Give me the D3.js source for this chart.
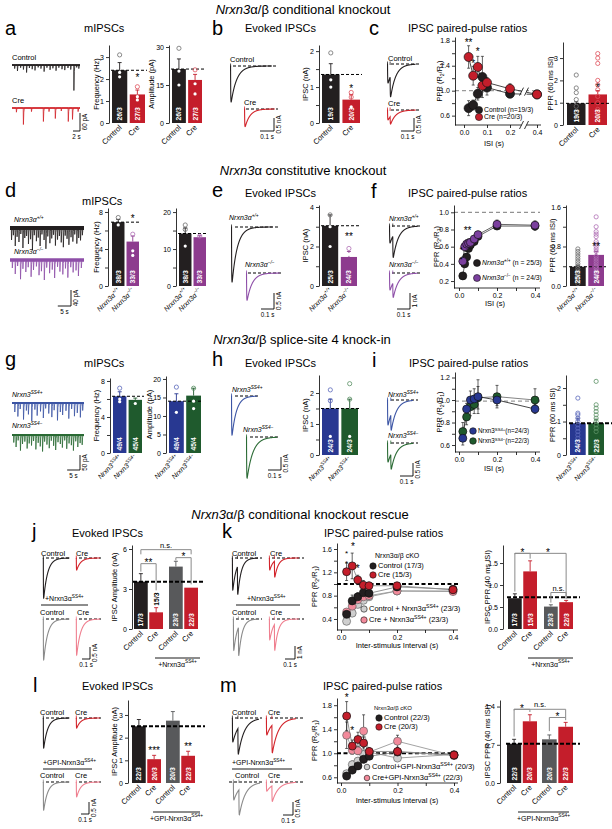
<!DOCTYPE html>
<html><head><meta charset="utf-8">
<script src="https://cdn.jsdelivr.net/npm/d3@7/dist/d3.min.js"></script>
<style>html,body{margin:0;padding:0;background:#fff}svg{display:block}</style>
</head><body>
<svg id="fig" width="612" height="829"></svg>
<script>
/* ================= DATA ================= */
// ---- row 1: Nrxn3a/b conditional KO ----
const condGroups = ["Control", "Cre"];
const aCtrlTimes = [0.7,1.5,2.4,3.2,4.1,4.9,5.7,6.5,7.4,8.2,9.1,9.9,10.8,11.6,12.5,13.3,14.2,15.0,15.9,16.7,17.6,18.4,19.0];
const aCtrlAmps  = [12,20,9,15,25,10,14,18,8,12,22,9,16,11,19,9,14,17,10,15,85,8,12];
const aCreTimes  = [1.2,3.2,5.5,8.9,10.5,12.3,14.0,16.0,17.2,18.8];
const aCreAmps   = [14,55,12,45,12,35,10,45,38,12];
const aFreqMean = [2.4, 1.3], aFreqSem = [0.35, 0.2], aFreqN = ["26/3", "27/3"];
const aFreqOpen = [[3.1], [1.65]], aFreqDots = [[2.1, 2.3], [1.05, 1.2]];
const aAmpMean = [21.3, 17], aAmpSem = [4, 2.2], aAmpN = ["26/3", "27/3"];
const aAmpOpen = [[29.5], [21]], aAmpDots = [[20.5, 15], [15.5, 11.5]];
const bTraceAmps = [[1.38], [0.68]];
const bMean = [1.35, 0.65], bSem = [0.3, 0.14], bN = ["19/3", "20/3"];
const bOpen = [[1.95], [0.85, 0.72]], bDots = [[1.2, 1.0], [0.45]];
const cTraceAmps = [[0.73, 0.8], [0.38, 0.3]];
const cIsi = [0.02, 0.04, 0.06, 0.08, 0.1, 0.2, 0.4];
const cCtrl = [0.72, 0.77, 0.95, 1.22, 1.05, 0.95, 0.94], cCtrlSem = [0.12, 0.08, 0.1, 0.33, 0.12, 0.04, 0.04];
const cCre  = [1.54, 1.24, 1.38, 1.08, 1.13, 1.03, 0.94], cCreSem  = [0.18, 0.15, 0.17, 0.1, 0.08, 0.08, 0.05];
const cBarMean = [0.97, 1.37], cBarSem = [0.07, 0.17], cBarN = ["19/3", "20/3"];
const cBarOpen = [[2.24,1.66,1.45,1.14,0.84,0.55,0.33], [3.2,3.0,2.76,2.0,1.8,1.58,1.28,1.0,0.7,0.47]];

// ---- row 2: Nrxn3a constitutive KO ----
const dWtTimes = [0.5,1.2,1.9,2.6,3.3,4.0,4.8,5.5,6.2,6.9,7.7,8.4,9.1,9.9,10.6,11.3,12.0,12.8,13.5,14.2,15.0,15.7,16.4,17.1,17.9,18.6,19.3,20.1,20.8,21.5,22.2,23.0,23.7,24.4,25.2,25.9,26.6,27.3];
const dWtAmps  = [30,18,45,22,35,15,50,25,20,40,28,55,18,33,24,45,16,30,52,21,38,26,17,44,29,20,36,48,19,27,42,23,34,16,39,25,31,18];
const dKoTimes = [0.8,1.9,2.8,3.9,4.8,5.9,6.8,7.9,8.8,9.9,10.9,11.8,12.9,13.8,14.9,15.9,16.8,17.9,18.8,19.9,20.9,21.8,22.9,23.8,24.9,25.8,26.9];
const dKoAmps  = [20,35,15,48,22,30,18,42,25,16,38,28,50,19,33,24,45,17,29,36,21,44,18,31,26,40,20];
const dFreqMean = [6.9, 4.8], dFreqSem = [0.3, 0.6], dFreqN = ["38/3", "33/3"];
const dFreqOpen = [[7.4], [5.6]], dFreqDots = [[6.6], [3.8, 3.3]];
const dAmpMean = [14.2, 13.2], dAmpSem = [1.5, 0.4], dAmpN = ["38/3", "33/3"];
const dAmpOpen = [[16.5, 15.3], [13.5]], dAmpDots = [[10.8], []];
const eTraceAmps = [[1.72], [0.85]];
const eMean = [3.05, 1.47], eSem = [0.55, 0.28], eN = ["25/3", "24/3"];
const eOpen = [[3.6], [1.9]], eDots = [[2.0, 3.0], [1.6]];
const fTraceAmps = [[1.06, 1.37], [1.06, 0.93]];
const fIsi = [0.02, 0.03, 0.04, 0.05, 0.06, 0.08, 0.1, 0.2, 0.4];
const fWt = [0.26, 0.40, 0.48, 0.58, 0.62, 0.66, 0.72, 0.84, 0.84], fWtSem = [0.04,0.04,0.04,0.04,0.04,0.04,0.04,0.04,0.05];
const fKo = [0.43, 0.60, 0.63, 0.64, 0.65, 0.69, 0.74, 0.86, 0.85], fKoSem = [0.05,0.05,0.05,0.05,0.04,0.04,0.04,0.05,0.05];
const fBarMean = [0.39, 0.63], fBarSem = [0.03, 0.07], fBarN = ["25/3", "24/3"];
const fBarOpen = [[0.75,0.7,0.65,0.6,0.55,0.5,0.45,0.4,0.35,0.3,0.25,0.2,0.15,0.1,0.05],
                  [1.4,1.2,1.1,1.05,1.0,0.9,0.85,0.8,0.75,0.7,0.6,0.55,0.5,0.45,0.4,0.35,0.3,0.25,0.2,0.15]];

// ---- row 3: splice-site 4 knock-in ----
const gPlusTimes  = [1.0,2.2,3.1,4.4,5.5,6.3,7.6,8.8,9.7,11.0,12.1,13.0,14.2,15.4,16.3,17.6,18.7,19.6,20.9,22.0,23.1,24.2,25.3,26.5,27.4];
const gPlusAmps   = [30,45,20,55,25,38,60,22,42,28,50,18,35,47,24,58,30,40,26,52,20,44,33,48,25];
const gMinusTimes = [0.6,1.5,2.3,3.2,4.0,4.9,5.8,6.6,7.5,8.3,9.2,10.1,10.9,11.8,12.6,13.5,14.4,15.2,16.1,16.9,17.8,18.7,19.5,20.4,21.2,22.1,23.0,23.8,24.7,25.5,26.4,27.2];
const gMinusAmps  = [25,40,18,52,30,22,45,28,35,20,48,26,38,55,22,32,44,19,36,50,24,30,42,18,46,28,34,52,21,40,27,33];
const gFreqMean = [6.3, 5.9], gFreqSem = [0.5, 0.2], gFreqN = ["49/4", "45/4"];
const gFreqOpen = [[7.2], []], gFreqDots = [[6.0, 5.7], [5.5]];
const gAmpMean = [14, 15.5], gAmpSem = [2, 2], gAmpN = ["49/4", "45/4"];
const gAmpOpen = [[17.8], [17.5]], gAmpDots = [[11], [14, 12]];
const hTraceAmps = [[1.5], [1.58]];
const hMean = [1.5, 1.5], hSem = [0.3, 0.3], hN = ["24/3", "24/3"];
const hOpen = [[2.1, 1.75], [2.3, 1.8]], hDots = [[0.6], [0.6]];
const iTraceAmps = [[0.96, 0.62], [0.73, 0.6]];
const iIsi = [0.02, 0.04, 0.06, 0.08, 0.1, 0.2, 0.4];
const iPlus  = [0.66, 0.92, 1.0, 1.01, 1.03, 1.0, 0.92], iPlusSem  = [0.06, 0.05, 0.08, 0.09, 0.15, 0.05, 0.04];
const iMinus = [0.72, 0.85, 0.94, 0.96, 1.02, 1.03, 1.0], iMinusSem = [0.08, 0.07, 0.08, 0.08, 0.1, 0.1, 0.1];
const iBarMean = [0.95, 0.95], iBarSem = [0.15, 0.12], iBarN = ["24/3", "22/3"];
const iBarOpen = [[1.7,1.25,1.2,1.1,1.0,0.9,0.8,0.7,0.6,0.5], [2.2,1.5,1.4,1.3,1.2,1.1,1.0,0.9,0.8,0.7,0.3,0.1]];

// ---- rescue rows ----
const rescueGroups = ["Control", "Cre", "Control", "Cre"];
const jTraceAmps = [[1.67], [0.5], [1.7], [1.5]];
const jMean = [3.55, 1.25, 4.68, 3.1], jSem = [0.6, 0.35, 0.4, 0], jN = ["17/3", "15/3", "23/3", "22/3"];
const kTraceAmps = [[2.46, 2.18], [0.92, 1.24], [2.4, 2.2], [1.6, 2.0]];
const kIsi = [0.02, 0.04, 0.06, 0.08, 0.1, 0.2, 0.4];
const kCtrl  = [0.48, 0.71, 0.78, 0.85, 0.84, 0.95, 0.91], kCtrlSem  = [0.05, 0.1, 0.07, 0.05, 0.05, 0.05, 0.04];
const kCre   = [1.21, 1.31, 1.07, 0.98, 0.97, 0.97, 0.90], kCreSem   = [0.15, 0.22, 0.08, 0.08, 0.06, 0.05, 0.04];
const kCtrlR = [0.36, 0.50, 0.65, 0.72, 0.78, 0.88, 0.88], kCtrlRSem = [0.04, 0.05, 0.04, 0.04, 0.04, 0.04, 0.04];
const kCreR  = [0.52, 0.62, 0.73, 0.78, 0.80, 0.88, 0.87], kCreRSem  = [0.05, 0.05, 0.04, 0.04, 0.04, 0.04, 0.04];
const kBarMean = [0.70, 1.31, 0.51, 0.61], kBarSem = [0.1, 0.24, 0.04, 0.04], kBarN = ["17/3", "15/3", "23/3", "22/3"];
const lTraceAmps = [[1.25], [0.42], [1.17], [0.62]];
const lMean = [2.5, 1.05, 2.75, 1.2], lSem = [0.3, 0.17, 0.4, 0.2], lN = ["22/3", "20/3", "20/3", "22/3"];
const mTraceAmps = [[0.92, 1.01], [0.65, 1.07], [0.69, 0.98], [0.35, 0.6]];
const mIsi = [0.02, 0.04, 0.06, 0.08, 0.1, 0.2, 0.4];
const mCtrl  = [0.62, 0.72, 0.79, 0.90, 0.95, 1.02, 0.97], mCtrlSem  = [0.05, 0.06, 0.06, 0.06, 0.05, 0.04, 0.04];
const mCre   = [1.62, 1.12, 1.23, 1.17, 1.03, 1.03, 0.97], mCreSem   = [0.24, 0.1, 0.12, 0.1, 0.06, 0.06, 0.04];
const mCtrlR = [0.66, 0.81, 0.87, 0.98, 1.02, 0.92, 0.98], mCtrlRSem = [0.05, 0.06, 0.06, 0.06, 0.05, 0.04, 0.04];
const mCreR  = [1.30, 1.05, 1.04, 1.37, 1.02, 1.20, 0.96], mCreRSem  = [0.22, 0.06, 0.06, 0.27, 0.06, 0.1, 0.04];
const mBarMean = [0.72, 1.13, 0.80, 1.03], mBarSem = [0.08, 0.12, 0.08, 0.08], mBarN = ["22/3", "20/3", "20/3", "22/3"];

/* ================= STYLE ================= */
const FONT = '"Liberation Sans", Arial, Helvetica, sans-serif';
const BLACK = "#231f20", RED = "#c41e2b", PURPLE = "#8d3b8e", BLUE = "#283891", GREEN = "#1f5a2d", GRAY = "#58595b";
const TR_RED = "#d2232a", TR_PURPLE = "#8e4fa8", TR_BLUE = "#3c55a5", TR_GREEN = "#2b6b35", TR_GRAY = "#8a8a8a", TR_PINK = "#ef7f8f";
const O_BLACK = "#6d6d6d", O_RED = "#e0505c", O_PURPLE = "#b070b5", O_BLUE = "#5a68bb", O_GREEN = "#5a9064";
const M_PURPLE = "#7b3f9e", M_LGRAY = "#cfcfcf", M_PINK = "#f28a9b";

const L = {
  wt: [{t: "Nrxn3α", it: 1}, {t: "+/+", sup: 1, it: 1}],
  ko: [{t: "Nrxn3α", it: 1}, {t: "−/−", sup: 1, it: 1}],
  ssp: [{t: "Nrxn3", it: 1}, {t: "SS4+", sup: 1, it: 1}],
  ssm: [{t: "Nrxn3", it: 1}, {t: "SS4−", sup: 1, it: 1}],
  resc: [{t: "+Nrxn3α"}, {t: "SS4+", sup: 1}],
  gpi: [{t: "+GPI-Nrxn3α"}, {t: "SS4+", sup: 1}],
  ppr: [{t: "PPR  (R"}, {t: "2", sub: 1}, {t: "/R"}, {t: "1", sub: 1}, {t: ")"}]
};

const svg = d3.select("#fig");

function addSegs(t, s, size) {
  const segs = typeof s === "string" ? [{t: s}] : s;
  let shift = 0;
  segs.forEach(sg => {
    const ts = t.append("tspan").text(sg.t);
    if (sg.it) ts.attr("font-style", "italic");
    const target = sg.sup ? -0.45 : (sg.sub ? 0.3 : 0);
    if (sg.sup || sg.sub) ts.attr("font-size", size * 0.68);
    const dy = (target - shift) * size;
    if (Math.abs(dy) > 1e-6) ts.attr("dy", dy);
    shift = target;
  });
}
function txt(g, x, y, s, o = {}) {
  const size = o.size || 7.5;
  const t = g.append("text").attr("x", x).attr("y", y).attr("font-size", size)
    .attr("font-family", FONT).attr("fill", o.fill || "#000").attr("text-anchor", o.anchor || "start");
  if (o.weight) t.attr("font-weight", o.weight);
  if (o.rot != null) t.attr("transform", `rotate(${o.rot},${x},${y})`);
  addSegs(t, s, size);
  return t;
}
function starTxt(g, x, y, lines) {
  // stacked significance stars: separate text lines, spaced so they do not collide
  const size = lines.length > 1 ? 8 : 10;
  lines.forEach((s, i) => txt(g, x, y + i * size * 1.2, s, {size: size, anchor: "middle"}));
}
function yAxis(g, y, ax, ticks, labels, fmt) {
  const a = d3.axisLeft(y).tickValues(ticks).tickSizeInner(3).tickSizeOuter(0).tickPadding(2)
    .tickFormat(d => labels.some(l => Math.abs(l - d) < 1e-9) ? fmt(d) : "");
  const gg = g.append("g").attr("transform", `translate(${ax},0)`).call(a);
  gg.select(".domain").attr("stroke", "#000").attr("stroke-width", 0.8);
  gg.selectAll(".tick line").attr("stroke", "#000").attr("stroke-width", 0.8);
  gg.selectAll(".tick text").attr("font-size", 7).attr("font-family", FONT).attr("fill", "#000");
  return gg;
}

/* ---------- bar panel ---------- */
function barPanel(p) {
  const g = svg.append("g");
  const y = d3.scaleLinear().domain([0, p.max]).range([p.y0, p.yTop]);
  yAxis(g, y, p.ax, p.ticks, p.labels || p.ticks, p.fmt || (d => String(d)));
  const pos = [];
  p.pairs.forEach(r => {
    const b = d3.scaleBand().domain([0, 1]).range(r).paddingInner(p.pad == null ? 0.14 : p.pad);
    [0, 1].forEach(i => pos.push({x: b(i), w: b.bandwidth(), c: b(i) + b.bandwidth() / 2}));
  });
  g.selectAll("rect.bar").data(p.mean).join("rect").attr("class", "bar")
    .attr("x", (d, i) => pos[i].x).attr("width", (d, i) => pos[i].w)
    .attr("y", d => y(d)).attr("height", d => p.y0 - y(d)).attr("fill", (d, i) => p.colors[i]);
  p.mean.forEach((m, i) => {
    if (!p.sem[i]) return;
    const c = pos[i].c, yt = y(m + p.sem[i]);
    g.append("path").attr("d", `M${c},${y(m)}V${yt}M${c - 2},${yt}H${c + 2}`)
      .attr("stroke", p.colors[i]).attr("stroke-width", 0.9).attr("fill", "none");
  });
  if (p.ref != null) g.append("line").attr("x1", pos[0].x - 1).attr("x2", p.refEnd)
    .attr("y1", y(p.ref)).attr("y2", y(p.ref)).attr("stroke", "#000")
    .attr("stroke-width", p.refW || 1).attr("stroke-dasharray", p.refDash || "3,2");
  (p.open || []).forEach((vals, i) => vals.forEach(v => g.append("circle").attr("cx", pos[i].c).attr("cy", y(v))
    .attr("r", p.r || 2.1).attr("fill", "none").attr("stroke", p.openColors[i]).attr("stroke-width", 0.8)));
  (p.dots || []).forEach((vals, i) => vals.forEach(v => g.append("circle").attr("cx", pos[i].c).attr("cy", y(v))
    .attr("r", 1.6).attr("fill", "#fff")));
  p.n.forEach((s, i) => {
    if (p.nOut && p.nOut.includes(i)) txt(g, pos[i].c + 2.5, y(p.mean[i] + p.sem[i]) - 2, s, {size: 6.8, weight: "bold", rot: -90});
    else txt(g, pos[i].c + 2.5, p.y0 - 2.5, s, {size: 6.8, weight: "bold", rot: -90, fill: "#fff"});
  });
  (p.stars || []).forEach(st => txt(g, pos[st.i].c, y(st.v) + 4, st.t, {size: 10, anchor: "middle"}));
  (p.brackets || []).forEach(b => {
    const xa = pos[b.a].c, xb = pos[b.b].c;
    g.append("path").attr("d", `M${xa},${y(b.va)}V${y(b.lvl)}H${xb}V${y(b.vb)}`)
      .attr("stroke", "#8a8a8a").attr("fill", "none").attr("stroke-width", 1);
    const cx = b.tx != null ? b.tx : (xa + xb) / 2;
    if (b.t === "n.s.") txt(g, cx, y(b.lvl) - 1.8, b.t, {size: 7.5, anchor: "middle"});
    else txt(g, cx, y(b.lvl) + 2.8, b.t, {size: 10, anchor: "middle"});
  });
  p.xl.forEach((s, i) => txt(g, pos[i].c + 2.5, p.y0 + 5, s, {size: p.xs || 7.5, anchor: "end", rot: -45}));
  if (p.group) {
    g.append("line").attr("x1", p.group.x1).attr("x2", p.group.x2).attr("y1", p.group.y).attr("y2", p.group.y)
      .attr("stroke", "#000").attr("stroke-width", 0.9);
    txt(g, (p.group.x1 + p.group.x2) / 2, p.group.y + 8.5, p.group.label, {size: 7, anchor: "middle"});
  }
  if (p.yl) txt(g, p.ylx, (p.y0 + p.yTop) / 2, p.yl, {size: 7.5, rot: -90, anchor: "middle"});
  return {g, y, pos};
}

/* ---------- PPR line panel ---------- */
function pprPanel(p) {
  const g = svg.append("g");
  const y = d3.scaleLinear().domain(p.yd).range(p.yr);
  const x = d3.scaleLinear().domain(p.xd).range(p.xr);
  g.append("line").attr("x1", p.ax).attr("x2", p.refEnd).attr("y1", y(p.ref)).attr("y2", y(p.ref))
    .attr("stroke", p.refColor).attr("stroke-width", p.refW).attr("stroke-dasharray", p.refDash);
  yAxis(g, y, p.ax, p.yt, p.ytl, d3.format(".1f"));
  const xa = d3.axisBottom(x).tickValues(p.xt).tickSizeInner(3).tickSizeOuter(0).tickPadding(2)
    .tickFormat(d => p.xtl.includes(d) ? d3.format(".1f")(d) : "");
  const xg = g.append("g").attr("transform", `translate(0,${p.yr[0]})`).call(xa);
  xg.select(".domain").remove();
  xg.selectAll(".tick line").attr("stroke", "#000").attr("stroke-width", 0.8);
  xg.selectAll(".tick text").attr("font-size", 7).attr("font-family", FONT).attr("fill", "#000");
  g.append("line").attr("x1", p.ax).attr("x2", p.xEnd).attr("y1", p.yr[0]).attr("y2", p.yr[0])
    .attr("stroke", "#000").attr("stroke-width", 0.8);
  const line = d3.line();
  p.series.forEach(s => g.append("path").attr("d", line(p.isi.map((d, i) => [x(d), y(s.v[i])])))
    .attr("fill", "none").attr("stroke", s.line).attr("stroke-width", 0.9));
  if (p.brk) {
    [p.yr[0], ...p.brk.ys.map(v => y(v))].forEach(yy => {
      g.append("rect").attr("x", p.brk.x - 2.5).attr("y", yy - 4).attr("width", 5).attr("height", 8).attr("fill", "#fff");
      [-2.5, 2.5].forEach(o => g.append("line").attr("x1", p.brk.x + o - 2).attr("x2", p.brk.x + o + 2)
        .attr("y1", yy + 4).attr("y2", yy - 4).attr("stroke", "#000").attr("stroke-width", 0.8));
    });
  }
  p.series.forEach(s => p.isi.forEach((d, i) => {
    const cx = x(d), a = y(s.v[i] + s.e[i]), b = y(s.v[i] - s.e[i]);
    g.append("path").attr("d", `M${cx},${a}V${b}M${cx - 1.5},${a}H${cx + 1.5}M${cx - 1.5},${b}H${cx + 1.5}`)
      .attr("stroke", "#222").attr("stroke-width", 0.7).attr("fill", "none");
  }));
  p.series.forEach(s => p.isi.forEach((d, i) => g.append("circle").attr("cx", x(d)).attr("cy", y(s.v[i]))
    .attr("r", p.r).attr("fill", s.color).attr("stroke", s.stroke || "#111").attr("stroke-width", 0.7)));
  (p.stars || []).forEach(st => starTxt(g, x(st.x), y(st.v) + 4, st.t.split("|")));
  (p.legend || []).forEach(l => {
    if (l.color) g.append("circle").attr("cx", l.x).attr("cy", l.y).attr("r", l.r || 3.2)
      .attr("fill", l.color).attr("stroke", "#111").attr("stroke-width", 0.6);
    txt(g, l.x + (l.color ? 5 : 0), l.y + 2.4, l.label, {size: l.size || 6.8});
  });
  txt(g, p.ylx, (p.yr[0] + p.yr[1]) / 2, L.ppr, {size: 7.5, rot: -90, anchor: "middle"});
  txt(g, p.xlx, p.xly, p.xlabel, {size: 7.5, anchor: "middle"});
}

/* ---------- traces ---------- */
function mTrace(g, p) {
  const t = d3.scaleLinear().domain([0, p.dur]).range([p.x0, p.x1]);
  const a = d3.scaleLinear().domain([0, 100]).range([p.y0, p.y0 + 100 * p.pxA]);
  const pts = [[0, 0]];
  p.times.forEach((tt, i) => {
    pts.push([tt, 0], [tt + p.dur * 0.003, p.amps[i]], [tt + p.dur * 0.009, p.amps[i] * 0.25], [tt + p.dur * 0.017, 0]);
  });
  pts.push([p.dur, 0]);
  if (p.band) g.append("rect").attr("x", p.x0).attr("y", p.y0 - p.band / 2).attr("width", p.x1 - p.x0)
    .attr("height", p.band).attr("fill", p.color);
  g.append("path").attr("d", d3.line().x(d => t(d[0])).y(d => a(d[1]))(pts))
    .attr("fill", "none").attr("stroke", p.color).attr("stroke-width", p.sw || 0.8);
}
function eTrace(g, p) {
  const dt = 0.0005, rise = 0.0012;
  const k = tt => tt <= 0 ? 0 : (1 - Math.exp(-tt / rise)) * Math.exp(-tt / p.tau);
  const norm = d3.max(d3.range(0, 0.05, dt).map(k));
  const tS = d3.scaleLinear().domain([0, p.dur]).range([p.x0, p.x0 + p.dur * p.pxS]);
  const iS = d3.scaleLinear().domain([0, 1]).range([p.y0, p.y0 + p.pxA]);
  if (p.dash) g.append("line").attr("x1", p.dash[0]).attr("x2", p.dash[1]).attr("y1", p.y0).attr("y2", p.y0)
    .attr("stroke", "#000").attr("stroke-width", 1.1).attr("stroke-dasharray", "3,2");
  const pts = d3.range(0, p.dur + dt / 2, dt).map(t => [t, d3.sum(p.amps, (A, j) => A * k(t - 0.004 - j * (p.isi || 0)) / norm)]);
  g.append("path").attr("d", d3.line().x(d => tS(d[0])).y(d => iS(d[1]))(pts))
    .attr("fill", "none").attr("stroke", p.color).attr("stroke-width", 1.1);
  p.amps.forEach((A, j) => {
    const xx = tS(0.004 + j * (p.isi || 0));
    g.append("line").attr("x1", xx).attr("x2", xx).attr("y1", p.y0 - 2.5).attr("y2", p.y0 + 1)
      .attr("stroke", p.color).attr("stroke-width", 0.8);
  });
}
function scaleBar(g, x, y, w, h, tl, al) {
  g.append("path").attr("d", `M${x - w},${y}H${x}V${y - h}`).attr("stroke", "#000")
    .attr("fill", "none").attr("stroke-width", 0.9);
  txt(g, x - w / 2, y + 7.5, tl, {size: 6.3, anchor: "middle"});
  txt(g, x + 7, y - h / 2, al, {size: 6.3, anchor: "middle", rot: -90});
}

/* ================= DRAW ================= */
const G = svg.append("g");
// titles
txt(G, 303, 14, [{t: "Nrxn3", it: 1}, {t: "α/β conditional knockout"}], {size: 13, anchor: "middle"});
txt(G, 303, 175, [{t: "Nrxn3", it: 1}, {t: "α constitutive knockout"}], {size: 13, anchor: "middle"});
txt(G, 302, 344, [{t: "Nrxn3", it: 1}, {t: "α/β splice-site 4 knock-in"}], {size: 13, anchor: "middle"});
txt(G, 300, 519, [{t: "Nrxn3", it: 1}, {t: "α/β conditional knockout rescue"}], {size: 13, anchor: "middle"});
// panel letters
[["a", 5, 35], ["b", 212, 35], ["c", 369, 35], ["d", 5, 197], ["e", 212, 197], ["f", 371, 198],
 ["g", 5, 366], ["h", 212, 366], ["i", 372, 367], ["j", 32, 538], ["k", 222, 538], ["l", 33, 692], ["m", 220, 692]]
  .forEach(d => txt(G, d[1], d[2], d[0], {size: 20}));
// subtitles
[["mIPSCs", 84, 32], ["Evoked IPSCs", 245, 32], ["IPSC paired-pulse ratios", 408, 32],
 ["mIPSCs", 82, 205], ["Evoked IPSCs", 245, 197], ["IPSC paired-pulse ratios", 408, 197],
 ["mIPSCs", 84, 367], ["Evoked IPSCs", 245, 367], ["IPSC paired-pulse ratios", 409, 367],
 ["Evoked IPSCs", 72, 537], ["IPSC paired-pulse ratios", 324, 537],
 ["Evoked IPSCs", 82, 690], ["IPSC paired-pulse ratios", 323, 690]]
  .forEach(d => txt(G, d[1], d[2], d[0], {size: 11}));

/* ---- row 1 ---- */
txt(G, 12, 60, "Control", {size: 7.5});
mTrace(G, {x0: 12, x1: 80, y0: 65, dur: 19.4, pxA: 0.3, times: aCtrlTimes, amps: aCtrlAmps, color: BLACK, band: 1.8});
txt(G, 12, 103, "Cre", {size: 7.5});
mTrace(G, {x0: 12, x1: 80, y0: 108, dur: 19.4, pxA: 0.3, times: aCreTimes, amps: aCreAmps, color: TR_RED, band: 1.6});
scaleBar(G, 80, 131, 2 * 3.5, 60 * 0.3, "2 s", "60 pA");

barPanel({ax: 109, y0: 123, yTop: 45, max: 3.55, ticks: [0, 1, 2, 3], pairs: [[112, 145]], mean: aFreqMean, sem: aFreqSem,
  colors: [BLACK, RED], ref: 2.4, refEnd: 147, open: aFreqOpen, openColors: [O_BLACK, O_RED], dots: aFreqDots, n: aFreqN,
  stars: [{i: 1, v: 2.1, t: "*"}], xl: condGroups, yl: "Frequency (Hz)", ylx: 99});
barPanel({ax: 169, y0: 123, yTop: 45, max: 30.8, ticks: [0, 15, 30], pairs: [[172, 202]], mean: aAmpMean, sem: aAmpSem,
  colors: [BLACK, RED], ref: 21.3, refEnd: 204, open: aAmpOpen, openColors: [O_BLACK, O_RED], dots: aAmpDots, n: aAmpN,
  xl: condGroups, yl: "Amplitude (pA)", ylx: 154});

txt(G, 230, 62, "Control", {size: 7.5});
eTrace(G, {x0: 230, y0: 66, pxS: 140, pxA: 26, amps: bTraceAmps[0], tau: 0.04, dur: 0.3, color: BLACK, dash: [233, 277]});
txt(G, 244, 105, "Cre", {size: 7.5});
eTrace(G, {x0: 244, y0: 109, pxS: 140, pxA: 26, amps: bTraceAmps[1], tau: 0.035, dur: 0.22, color: TR_RED, dash: [246, 278]});
scaleBar(G, 274, 131, 0.1 * 140, 0.5 * 26, "0.1 s", "0.5 nA");
barPanel({ax: 319, y0: 123, yTop: 45, max: 2.17, ticks: [0, 0.5, 1, 1.5, 2], labels: [0, 1, 2], pairs: [[322, 360]],
  mean: bMean, sem: bSem, colors: [BLACK, RED], ref: 1.35, refEnd: 362, open: bOpen, openColors: [O_BLACK, O_RED],
  dots: bDots, n: bN, stars: [{i: 1, v: 0.98, t: "*"}], xl: condGroups, yl: "IPSC (nA)", ylx: 308});

txt(G, 388, 61, "Control", {size: 7.5});
eTrace(G, {x0: 387, y0: 64, pxS: 130, pxA: 26, amps: cTraceAmps[0], isi: 0.02, tau: 0.04, dur: 0.22, color: BLACK, dash: [391, 419]});
txt(G, 388, 106, "Cre", {size: 7.5});
eTrace(G, {x0: 387, y0: 110, pxS: 130, pxA: 26, amps: cTraceAmps[1], isi: 0.02, tau: 0.04, dur: 0.22, color: TR_RED, dash: [391, 419]});
scaleBar(G, 414, 131, 0.1 * 130, 0.5 * 26, "0.1 s", "0.5 nA");
pprPanel({ax: 455, xEnd: 541, yd: [0.45, 1.86], yr: [125, 37], xd: [0, 0.2, 0.4], xr: [464, 510, 537],
  xt: [0, 0.1, 0.2, 0.4], xtl: [0, 0.1, 0.2, 0.4], yt: [0.6, 0.8, 1.0, 1.2, 1.4, 1.6, 1.8], ytl: [0.6, 1.0, 1.4, 1.8],
  ref: 1.0, refEnd: 540, refColor: "#9a9a9a", refW: 1.2, refDash: "4,3", r: 4.5, isi: cIsi,
  brk: {x: 524, ys: [0.985]},
  series: [{v: cCtrl, e: cCtrlSem, color: BLACK, line: "#333"}, {v: cCre, e: cCreSem, color: RED, line: "#333"}],
  stars: [{x: 0.02, v: 1.78, t: "**"}, {x: 0.06, v: 1.63, t: "*"}, {x: 0.04, v: 1.44, t: "*"}],
  legend: [{x: 479, y: 110, color: BLACK, label: "Control (n=19/3)", r: 3.6}, {x: 479, y: 117, color: RED, label: "Cre (n=20/3)", r: 3.6}],
  ylx: 442, xlx: 494, xly: 146, xlabel: "ISI (s)"});
barPanel({ax: 563, y0: 125, yTop: 42, max: 3.72, ticks: [0, 1, 2, 3], pairs: [[567, 607]], mean: cBarMean, sem: cBarSem,
  colors: [BLACK, RED], ref: 0.97, refEnd: 609, open: cBarOpen, openColors: [O_BLACK, O_RED], n: cBarN,
  stars: [{i: 1, v: 1.72, t: "*"}], xl: condGroups, yl: "PPR (60 ms ISI)", ylx: 553});

/* ---- row 2 ---- */
txt(G, 14, 222, L.wt, {size: 7});
mTrace(G, {x0: 10, x1: 84, y0: 228, dur: 28, pxA: 0.4, times: dWtTimes, amps: dWtAmps, color: BLACK, band: 4});
txt(G, 14, 254, L.ko, {size: 7});
mTrace(G, {x0: 10, x1: 84, y0: 260, dur: 28, pxA: 0.4, times: dKoTimes, amps: dKoAmps, color: TR_PURPLE, band: 3.5});
scaleBar(G, 71, 306, 5 * 2.64, 40 * 0.4, "5 s", "40 pA");
barPanel({ax: 108, y0: 286, yTop: 208, max: 8.43, ticks: [0, 2, 4, 6, 8], labels: [0, 4, 8], pairs: [[112, 139]],
  mean: dFreqMean, sem: dFreqSem, colors: [BLACK, PURPLE], ref: 6.9, refEnd: 141, open: dFreqOpen,
  openColors: [O_BLACK, O_PURPLE], dots: dFreqDots, n: dFreqN, stars: [{i: 1, v: 7.3, t: "*"}],
  xl: [L.wt, L.ko], xs: 7, yl: "Frequency (Hz)", ylx: 99});
barPanel({ax: 176, y0: 286, yTop: 208, max: 21.1, ticks: [0, 5, 10, 15, 20], labels: [0, 10, 20], pairs: [[179, 206]],
  mean: dAmpMean, sem: dAmpSem, colors: [BLACK, PURPLE], ref: 14.2, refEnd: 208, open: dAmpOpen,
  openColors: [O_BLACK, O_PURPLE], dots: dAmpDots, n: dAmpN, xl: [L.wt, L.ko], xs: 7});

txt(G, 229, 220, L.wt, {size: 7});
eTrace(G, {x0: 231, y0: 227, pxS: 130, pxA: 32, amps: eTraceAmps[0], tau: 0.04, dur: 0.32, color: BLACK, dash: [235, 280]});
txt(G, 245, 267, L.ko, {size: 7});
eTrace(G, {x0: 246, y0: 273, pxS: 130, pxA: 32, amps: eTraceAmps[1], tau: 0.04, dur: 0.26, color: TR_PURPLE, dash: [248, 282]});
scaleBar(G, 274, 309, 0.1 * 130, 0.5 * 32, "0.1 s", "0.5 nA");
barPanel({ax: 319, y0: 286, yTop: 205, max: 4.1, ticks: [0, 1, 2, 3, 4], labels: [0, 2, 4], pairs: [[322, 357]],
  mean: eMean, sem: eSem, colors: [BLACK, PURPLE], ref: 3.05, refEnd: 359, open: eOpen, openColors: [O_BLACK, O_PURPLE],
  dots: eDots, n: eN, stars: [{i: 1, v: 2.55, t: "**"}], xl: [L.wt, L.ko], xs: 7, yl: "IPSC (nA)", ylx: 308});

txt(G, 389, 221, L.wt, {size: 7});
eTrace(G, {x0: 389, y0: 226, pxS: 130, pxA: 16, amps: fTraceAmps[0], isi: 0.025, tau: 0.04, dur: 0.22, color: BLACK, dash: [392, 420]});
txt(G, 389, 267, L.ko, {size: 7});
eTrace(G, {x0: 389, y0: 273, pxS: 130, pxA: 16, amps: fTraceAmps[1], isi: 0.025, tau: 0.04, dur: 0.22, color: TR_PURPLE, dash: [392, 420]});
scaleBar(G, 410, 309, 0.1 * 130, 1 * 16, "0.1 s", "1 nA");
pprPanel({ax: 454, xEnd: 540, yd: [0.119, 1.085], yr: [288, 205], xd: [0, 0.4], xr: [459, 535],
  xt: [0, 0.1, 0.2, 0.3, 0.4], xtl: [0, 0.2, 0.4], yt: [0.2, 0.4, 0.6, 0.8, 1.0], ytl: [0.2, 0.4, 0.6, 0.8, 1.0],
  ref: 1.0, refEnd: 540, refColor: "#777", refW: 1, refDash: "4,3", r: 4, isi: fIsi,
  series: [{v: fWt, e: fWtSem, color: BLACK, line: "#555"}, {v: fKo, e: fKoSem, color: M_PURPLE, line: "#555"}],
  stars: [{x: 0.011, v: 0.58, t: "*|*"}, {x: 0.045, v: 0.79, t: "**"}],
  legend: [{x: 477, y: 263, color: BLACK, label: [{t: "Nrxn3α", it: 1}, {t: "+/+", sup: 1}, {t: " (n = 25/3)"}], r: 3.5},
           {x: 477, y: 278, color: M_PURPLE, label: [{t: "Nrxn3α", it: 1}, {t: "−/−", sup: 1}, {t: " (n = 24/3)"}], r: 3.5}],
  ylx: 439, xlx: 495, xly: 306, xlabel: "ISI (s)"});
barPanel({ax: 566, y0: 286, yTop: 205, max: 1.64, ticks: [0, 0.4, 0.8, 1.2, 1.6], labels: [0, 0.8, 1.6], fmt: d3.format(".1f"),
  pairs: [[570, 604]], mean: fBarMean, sem: fBarSem, colors: [BLACK, PURPLE], ref: 0.39, refEnd: 606,
  open: fBarOpen, openColors: [O_BLACK, O_PURPLE], n: fBarN, stars: [{i: 1, v: 0.8, t: "**"}],
  xl: [L.wt, L.ko], xs: 7, yl: "PPR (60 ms ISI)", ylx: 555});

/* ---- row 3 ---- */
txt(G, 12, 397, L.ssp, {size: 7});
mTrace(G, {x0: 12, x1: 84, y0: 403, dur: 28, pxA: 0.3, times: gPlusTimes, amps: gPlusAmps, color: TR_BLUE, band: 2});
txt(G, 12, 428, L.ssm, {size: 7});
mTrace(G, {x0: 12, x1: 84, y0: 435, dur: 28, pxA: 0.3, times: gMinusTimes, amps: gMinusAmps, color: TR_GREEN, band: 2});
scaleBar(G, 80, 470, 5 * 2.57, 50 * 0.3, "5 s", "50 pA");
barPanel({ax: 110, y0: 453, yTop: 378, max: 8.33, ticks: [0, 2, 4, 6, 8], labels: [0, 4, 8], pairs: [[113, 142]],
  mean: gFreqMean, sem: gFreqSem, colors: [BLUE, GREEN], ref: 6.3, refEnd: 144, open: gFreqOpen,
  openColors: [O_BLUE, O_GREEN], dots: gFreqDots, n: gFreqN, xl: [L.ssp, L.ssm], xs: 7, yl: "Frequency (Hz)", ylx: 99});
barPanel({ax: 166, y0: 453, yTop: 376, max: 20.8, ticks: [0, 5, 10, 15, 20], pairs: [[169, 201]],
  mean: gAmpMean, sem: gAmpSem, colors: [BLUE, GREEN], ref: 14, refEnd: 203, open: gAmpOpen,
  openColors: [O_BLUE, O_GREEN], dots: gAmpDots, n: gAmpN, xl: [L.ssp, L.ssm], xs: 7, yl: "Amplitude (pA)", ylx: 152});

txt(G, 232, 392, L.ssp, {size: 7});
eTrace(G, {x0: 231, y0: 396, pxS: 130, pxA: 26, amps: hTraceAmps[0], tau: 0.035, dur: 0.2, color: TR_BLUE, dash: [235, 258]});
txt(G, 243, 432, L.ssm, {size: 7});
eTrace(G, {x0: 246, y0: 437, pxS: 130, pxA: 26, amps: hTraceAmps[1], tau: 0.045, dur: 0.24, color: TR_GREEN, dash: [250, 278]});
scaleBar(G, 281, 470, 0.1 * 130, 0.5 * 26, "0.1 s", "0.5 nA");
barPanel({ax: 319, y0: 455, yTop: 375, max: 2.58, ticks: [0, 0.5, 1, 1.5, 2], labels: [0, 1, 2], pairs: [[322, 358]],
  mean: hMean, sem: hSem, colors: [BLUE, GREEN], ref: 1.5, refEnd: 360, open: hOpen, openColors: [O_BLUE, O_GREEN],
  dots: hDots, n: hN, xl: [L.ssp, L.ssm], xs: 7, yl: "IPSC (nA)", ylx: 308});

txt(G, 388, 397, L.ssp, {size: 7});
eTrace(G, {x0: 387, y0: 400, pxS: 130, pxA: 26, amps: iTraceAmps[0], isi: 0.025, tau: 0.04, dur: 0.2, color: TR_BLUE, dash: [391, 418]});
txt(G, 388, 438, L.ssm, {size: 7});
eTrace(G, {x0: 387, y0: 443, pxS: 130, pxA: 26, amps: iTraceAmps[1], isi: 0.025, tau: 0.04, dur: 0.2, color: TR_GREEN, dash: [391, 418]});
scaleBar(G, 413, 476, 0.1 * 130, 0.5 * 26, "0.1 s", "0.5 nA");
pprPanel({ax: 455, xEnd: 540, yd: [0.538, 1.249], yr: [452, 372], xd: [0, 0.4], xr: [459, 535],
  xt: [0, 0.1, 0.2, 0.3, 0.4], xtl: [0, 0.2, 0.4], yt: [0.6, 0.7, 0.8, 0.9, 1.0, 1.1, 1.2], ytl: [0.6, 0.8, 1.0, 1.2],
  ref: 0.99, refEnd: 540, refColor: "#9a9a9a", refW: 1.2, refDash: "4,3", r: 4, isi: iIsi,
  series: [{v: iMinus, e: iMinusSem, color: GREEN, line: "#777"}, {v: iPlus, e: iPlusSem, color: BLUE, line: "#333"}],
  legend: [{x: 473, y: 431, color: BLUE, label: [{t: "Nrxn3"}, {t: "SS4+", sup: 1}, {t: "(n=24/3)"}], r: 3.3, size: 6.3},
           {x: 473, y: 441, color: GREEN, label: [{t: "Nrxn3"}, {t: "SS4−", sup: 1}, {t: "(n=22/3)"}], r: 3.3, size: 6.3}],
  ylx: 442, xlx: 494, xly: 471, xlabel: "ISI (s)"});
barPanel({ax: 566, y0: 455, yTop: 375, max: 2.39, ticks: [0, 0.5, 1, 1.5, 2], labels: [0, 1, 2], pairs: [[570, 604]],
  mean: iBarMean, sem: iBarSem, colors: [BLUE, GREEN], ref: 0.95, refEnd: 612, refW: 2, refDash: "4,2",
  open: iBarOpen, openColors: [O_BLUE, O_GREEN], n: iBarN, xl: [L.ssp, L.ssm], xs: 7, yl: "PPR (60 ms ISI)", ylx: 555});

/* ---- row j / k ---- */
txt(G, 41, 556, "Control", {size: 7.5});
eTrace(G, {x0: 43, y0: 558, pxS: 80, pxA: 24, amps: jTraceAmps[0], tau: 0.05, dur: 0.33, color: BLACK, dash: [46, 70]});
txt(G, 76, 556, "Cre", {size: 7.5});
eTrace(G, {x0: 76, y0: 558, pxS: 80, pxA: 24, amps: jTraceAmps[1], tau: 0.05, dur: 0.3, color: TR_RED, dash: [79, 101]});
txt(G, 45, 601, L.resc, {size: 7});
G.append("line").attr("x1", 41).attr("x2", 88).attr("y1", 605).attr("y2", 605).attr("stroke", "#000").attr("stroke-width", 0.9);
txt(G, 40, 615, "Control", {size: 7.5});
eTrace(G, {x0: 43, y0: 619, pxS: 80, pxA: 24, amps: jTraceAmps[2], tau: 0.05, dur: 0.33, color: TR_GRAY, dash: [46, 70]});
txt(G, 77, 615, "Cre", {size: 7.5});
eTrace(G, {x0: 76, y0: 619, pxS: 80, pxA: 24, amps: jTraceAmps[3], tau: 0.05, dur: 0.3, color: TR_PINK, dash: [79, 101]});
scaleBar(G, 90, 659, 0.1 * 80, 0.5 * 24, "0.1 s", "0.5 nA");
barPanel({ax: 132, y0: 629, yTop: 545, max: 6.3, ticks: [0, 3, 6], pairs: [[134, 163], [169, 198]], pad: 0.1,
  mean: jMean, sem: jSem, colors: [BLACK, RED, GRAY, RED], ref: 3.55, refEnd: 203, refW: 2, refDash: "4,2",
  n: jN, nOut: [1],
  brackets: [{a: 0, b: 3, lvl: 5.95, va: 5.6, vb: 5.6, t: "n.s."}, {a: 0, b: 1, lvl: 4.9, va: 4.3, vb: 2.9, t: "**"},
             {a: 2, b: 3, lvl: 5.35, va: 5.15, vb: 3.35, t: "*"}],
  xl: rescueGroups, group: {x1: 155, x2: 200, y: 658, label: L.resc}, yl: "IPSC Amplitude (nA)", ylx: 117});

txt(G, 232, 556, "Control", {size: 7.5});
eTrace(G, {x0: 232, y0: 558, pxS: 100, pxA: 13, amps: kTraceAmps[0], isi: 0.05, tau: 0.035, dur: 0.26, color: BLACK, dash: [235, 262]});
txt(G, 270, 556, "Cre", {size: 7.5});
eTrace(G, {x0: 269, y0: 558, pxS: 100, pxA: 13, amps: kTraceAmps[1], isi: 0.05, tau: 0.035, dur: 0.3, color: TR_RED, dash: [272, 304]});
txt(G, 247, 601, L.resc, {size: 7});
G.append("line").attr("x1", 236).attr("x2", 300).attr("y1", 605).attr("y2", 605).attr("stroke", "#000").attr("stroke-width", 0.9);
txt(G, 232, 615, "Control", {size: 7.5});
eTrace(G, {x0: 233, y0: 619, pxS: 100, pxA: 13, amps: kTraceAmps[2], isi: 0.05, tau: 0.035, dur: 0.26, color: TR_GRAY, dash: [236, 262]});
txt(G, 270, 615, "Cre", {size: 7.5});
eTrace(G, {x0: 269, y0: 619, pxS: 100, pxA: 13, amps: kTraceAmps[3], isi: 0.05, tau: 0.035, dur: 0.3, color: TR_PINK, dash: [272, 304]});
scaleBar(G, 295, 659, 0.1 * 100, 1 * 13, "0.1 s", "1 nA");
pprPanel({ax: 337, xEnd: 458, yd: [0.211, 1.703], yr: [630, 543], xd: [0, 0.4], xr: [341, 453],
  xt: [0, 0.1, 0.2, 0.3, 0.4], xtl: [0, 0.2, 0.4], yt: [0.4, 0.6, 0.8, 1.0, 1.2, 1.4, 1.6], ytl: [0.4, 0.8, 1.2, 1.6],
  ref: 1.0, refEnd: 458, refColor: "#000", refW: 2, refDash: "4,2.5", r: 4, isi: kIsi,
  series: [{v: kCtrlR, e: kCtrlRSem, color: M_LGRAY, line: "#999", stroke: "#666"}, {v: kCreR, e: kCreRSem, color: M_PINK, line: "#999", stroke: "#666"},
           {v: kCtrl, e: kCtrlSem, color: BLACK, line: "#888"}, {v: kCre, e: kCreSem, color: RED, line: "#888"}],
  stars: [{x: 0.02, v: 1.55, t: "*|*"}, {x: 0.043, v: 1.65, t: "*"}, {x: 0.06, v: 1.27, t: "*"}],
  legend: [{x: 375, y: 556, label: [{t: "Nrxn3α/β cKO"}], size: 7},
           {x: 373, y: 566, color: BLACK, label: "Control (17/3)", size: 7.5},
           {x: 373, y: 575, color: RED, label: "Cre (15/3)", size: 7.5},
           {x: 364, y: 609, color: M_LGRAY, label: [{t: "Control + Nrxn3α"}, {t: "SS4+", sup: 1}, {t: " (23/3)"}], size: 7.5},
           {x: 364, y: 620, color: M_PINK, label: [{t: "Cre + Nrxn3α"}, {t: "SS4+", sup: 1}, {t: " (23/3)"}], size: 7.5}],
  ylx: 317, xlx: 397, xly: 648, xlabel: "Inter-stimulus Interval (s)"});
barPanel({ax: 503, y0: 629, yTop: 545, max: 1.91, ticks: [0, 0.5, 1, 1.5], fmt: d3.format(".1f"),
  pairs: [[508, 537], [544, 573]], pad: 0.1, mean: kBarMean, sem: kBarSem, colors: [BLACK, RED, GRAY, RED],
  ref: 0.72, refEnd: 580, refW: 2, refDash: "4,2", n: kBarN,
  brackets: [{a: 0, b: 3, lvl: 1.72, va: 1.7, vb: 0.7, t: "*", tx: 548}, {a: 0, b: 1, lvl: 1.72, va: 0.85, vb: 1.6, t: "*"},
             {a: 2, b: 3, lvl: 0.83, va: 0.6, vb: 0.68, t: "n.s."}],
  xl: rescueGroups, group: {x1: 528, x2: 573, y: 658, label: L.resc}, yl: "IPSC PPR (40 ms ISI)", ylx: 490});

/* ---- row l / m ---- */
txt(G, 40, 715, "Control", {size: 7.5});
eTrace(G, {x0: 43, y0: 718, pxS: 80, pxA: 24, amps: lTraceAmps[0], tau: 0.05, dur: 0.33, color: BLACK, dash: [46, 70]});
txt(G, 75, 715, "Cre", {size: 7.5});
eTrace(G, {x0: 76, y0: 718, pxS: 80, pxA: 24, amps: lTraceAmps[1], tau: 0.05, dur: 0.3, color: TR_RED, dash: [79, 101]});
txt(G, 43, 765, L.gpi, {size: 7});
G.append("line").attr("x1", 43).attr("x2", 92).attr("y1", 769).attr("y2", 769).attr("stroke", "#000").attr("stroke-width", 0.9);
txt(G, 40, 778, "Control", {size: 7.5});
eTrace(G, {x0: 43, y0: 782, pxS: 80, pxA: 24, amps: lTraceAmps[2], tau: 0.05, dur: 0.33, color: TR_GRAY, dash: [46, 70]});
txt(G, 75, 778, "Cre", {size: 7.5});
eTrace(G, {x0: 76, y0: 782, pxS: 80, pxA: 24, amps: lTraceAmps[3], tau: 0.05, dur: 0.3, color: TR_PINK, dash: [79, 101]});
scaleBar(G, 89, 814, 0.1 * 80, 0.5 * 24, "0.1 s", "0.5 nA");
barPanel({ax: 128, y0: 783, yTop: 700, max: 3.66, ticks: [0, 1, 2, 3], pairs: [[132, 161], [166, 195]], pad: 0.1,
  mean: lMean, sem: lSem, colors: [BLACK, RED, GRAY, RED], ref: 2.5, refEnd: 205, refW: 2, refDash: "4,2",
  n: lN, stars: [{i: 1, v: 1.45, t: "***"}, {i: 3, v: 1.65, t: "**"}],
  xl: rescueGroups, group: {x1: 153, x2: 200, y: 812, label: L.gpi}, yl: "IPSC Amplitude (nA)", ylx: 117});

txt(G, 232, 715, "Control", {size: 7.5});
eTrace(G, {x0: 232, y0: 718, pxS: 100, pxA: 26, amps: mTraceAmps[0], isi: 0.055, tau: 0.06, dur: 0.27, color: BLACK, dash: [235, 262]});
txt(G, 268, 715, "Cre", {size: 7.5});
eTrace(G, {x0: 266, y0: 718, pxS: 100, pxA: 26, amps: mTraceAmps[1], isi: 0.055, tau: 0.06, dur: 0.3, color: TR_RED, dash: [270, 304]});
txt(G, 232, 765, L.gpi, {size: 7});
G.append("line").attr("x1", 232).attr("x2", 292).attr("y1", 769).attr("y2", 769).attr("stroke", "#000").attr("stroke-width", 0.9);
txt(G, 235, 778, "Control", {size: 7.5});
eTrace(G, {x0: 233, y0: 782, pxS: 100, pxA: 26, amps: mTraceAmps[2], isi: 0.055, tau: 0.06, dur: 0.27, color: TR_GRAY, dash: [229, 262]});
txt(G, 268, 778, "Cre", {size: 7.5});
eTrace(G, {x0: 266, y0: 782, pxS: 100, pxA: 26, amps: mTraceAmps[3], isi: 0.055, tau: 0.06, dur: 0.3, color: TR_PINK, dash: [270, 304]});
scaleBar(G, 293, 815, 0.1 * 100, 0.5 * 26, "0.1 s", "0.5 nA");
pprPanel({ax: 337, xEnd: 458, yd: [0.505, 1.92], yr: [783, 698], xd: [0, 0.4], xr: [341, 454],
  xt: [0, 0.1, 0.2, 0.3, 0.4], xtl: [0, 0.2, 0.4], yt: [0.6, 0.8, 1.0, 1.2, 1.4, 1.6, 1.8], ytl: [0.6, 1.0, 1.4, 1.8],
  ref: 1.0, refEnd: 458, refColor: "#000", refW: 2, refDash: "4,2.5", r: 4, isi: mIsi,
  series: [{v: mCtrlR, e: mCtrlRSem, color: M_LGRAY, line: "#999", stroke: "#666"}, {v: mCreR, e: mCreRSem, color: M_PINK, line: "#999", stroke: "#666"},
           {v: mCtrl, e: mCtrlSem, color: BLACK, line: "#888"}, {v: mCre, e: mCreSem, color: RED, line: "#888"}],
  stars: [{x: 0.02, v: 1.94, t: "*"}, {x: 0.04, v: 1.39, t: "*"}],
  legend: [{x: 374, y: 708, label: [{t: "Nrxn3α/β cKO"}], size: 6},
           {x: 379, y: 718, color: BLACK, label: "Control (22/3)", size: 7.5},
           {x: 379, y: 727, color: RED, label: "Cre (20/3)", size: 7.5},
           {x: 367, y: 767, color: M_LGRAY, label: [{t: "Control+GPI-Nrxn3α"}, {t: "SS4+", sup: 1}, {t: " (20/3)"}], size: 7.5, r: 2.8},
           {x: 367, y: 778, color: M_PINK, label: [{t: "Cre+GPI-Nrxn3α"}, {t: "SS4+", sup: 1}, {t: " (22/3)"}], size: 7.5, r: 2.8}],
  ylx: 317, xlx: 397, xly: 803, xlabel: "Inter-stimulus Interval (s)"});
barPanel({ax: 500, y0: 783, yTop: 700, max: 1.52, ticks: [0, 0.7, 1.4], fmt: d3.format(".1f"),
  pairs: [[507, 537], [542, 573]], pad: 0.1, mean: mBarMean, sem: mBarSem, colors: [BLACK, RED, GRAY, RED],
  ref: 0.72, refEnd: 580, refW: 2, refDash: "4,2", n: mBarN,
  brackets: [{a: 0, b: 3, lvl: 1.35, va: 1.33, vb: 1.2, t: "n.s.", tx: 540}, {a: 0, b: 1, lvl: 1.35, va: 0.85, vb: 1.3, t: "*"},
             {a: 2, b: 3, lvl: 1.2, va: 0.95, vb: 1.15, t: "*"}],
  xl: rescueGroups, group: {x1: 518, x2: 569, y: 812, label: L.gpi}, yl: "IPSC PPR (40 ms ISI)", ylx: 490});
</script>
</body></html>
